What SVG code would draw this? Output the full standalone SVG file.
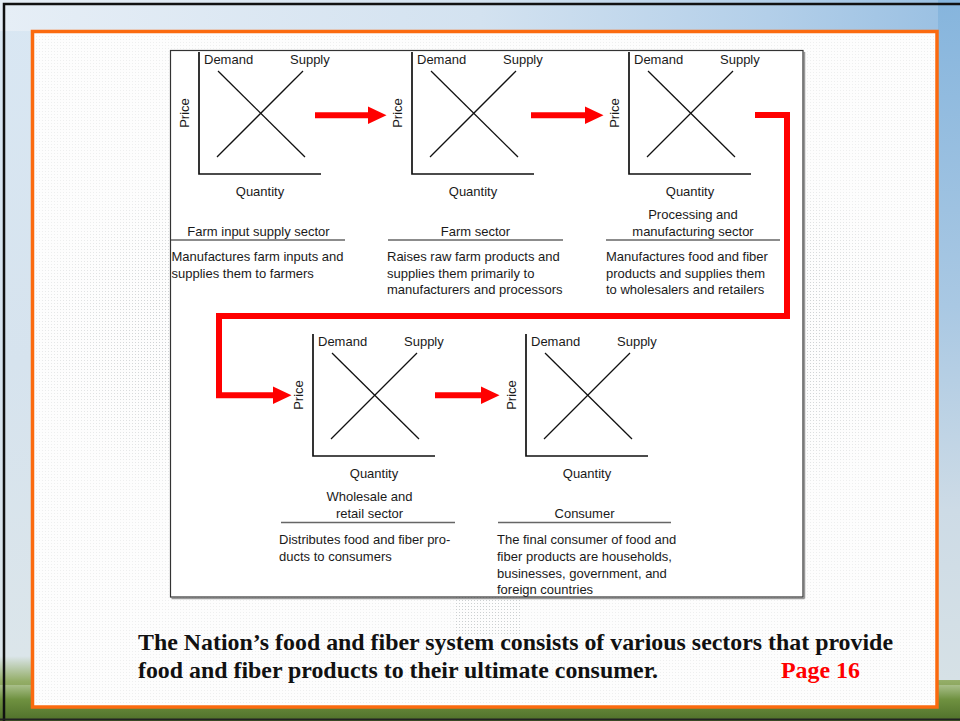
<svg xmlns="http://www.w3.org/2000/svg" width="960" height="721" viewBox="0 0 960 721">
<defs>
<style>
.axis{fill:none;stroke:#111;stroke-width:1.7}
.curve{stroke:#111;stroke-width:1.3}
.t{font-family:"Liberation Sans",Arial,sans-serif;font-size:13px;fill:#1a1a1a}
.mid{text-anchor:middle}
.rule{stroke:#666;stroke-width:1.3}
.conn{fill:none;stroke:#ff0000;stroke-width:6;stroke-linejoin:miter;stroke-linecap:butt}
.cap{font-family:"Liberation Serif","Times New Roman",serif;font-size:24px;font-weight:bold}
</style>
<linearGradient id="bg" x1="0" y1="0" x2="0" y2="1">
<stop offset="0" stop-color="#d9e7f3"/>
<stop offset="0.5" stop-color="#d6e3ee"/>
<stop offset="0.91" stop-color="#dbe5ea"/>
<stop offset="0.945" stop-color="#93ad66"/>
<stop offset="1" stop-color="#587a30"/>
</linearGradient>
<linearGradient id="topstrip" x1="0" y1="0" x2="1" y2="0">
<stop offset="0" stop-color="#e6eef6"/>
<stop offset="0.5" stop-color="#d3e2f0"/>
<stop offset="0.8" stop-color="#b3cfe9"/>
<stop offset="1" stop-color="#98bfe2"/>
</linearGradient>
<linearGradient id="rightstrip" x1="0" y1="0" x2="0" y2="1">
<stop offset="0" stop-color="#86b5dd"/>
<stop offset="0.45" stop-color="#a9c8e3"/>
<stop offset="0.75" stop-color="#cddbe6"/>
<stop offset="1" stop-color="#d6e1e6"/>
</linearGradient>
<linearGradient id="grass" x1="0" y1="0" x2="0" y2="1">
<stop offset="0" stop-color="#a9bf8a"/>
<stop offset="0.4" stop-color="#6f9140"/>
<stop offset="1" stop-color="#4f6f2a"/>
</linearGradient>
<radialGradient id="fade" cx="0.5" cy="0.5" r="0.5">
<stop offset="0" stop-color="#fff" stop-opacity="1"/>
<stop offset="0.7" stop-color="#fff" stop-opacity="0.8"/>
<stop offset="1" stop-color="#fff" stop-opacity="0"/>
</radialGradient>
<mask id="treemask" maskUnits="userSpaceOnUse" x="0" y="0" width="960" height="721">
<ellipse cx="485" cy="335" rx="470" ry="220" fill="url(#fade)"/>
</mask>
<pattern id="dots" width="3" height="3" patternUnits="userSpaceOnUse">
<rect x="0" y="0" width="1" height="1" fill="#7d868c"/>
</pattern>
<marker id="ah" markerUnits="userSpaceOnUse" markerWidth="20" markerHeight="20" refX="0" refY="8.7" orient="auto" overflow="visible">
<path d="M0,0 L18.5,8.7 L0,17.4 Z" fill="#ff0000"/>
</marker>
</defs>

<g id="background">
<rect x="0" y="0" width="960" height="721" fill="url(#bg)"/>
<rect x="0" y="0" width="960" height="31" fill="url(#topstrip)"/>
<rect x="938" y="0" width="22" height="680" fill="url(#rightstrip)"/>
<rect x="0" y="685" width="960" height="36" fill="url(#grass)"/>
<path d="M4,721 V4 H960" fill="none" stroke="#111" stroke-width="2.5"/>
<line x1="0" y1="719.5" x2="960" y2="719.5" stroke="#222" stroke-width="2"/>
</g>

<g id="frame">
<rect x="32.5" y="31.5" width="904.5" height="675.5" fill="#fdfdfd" stroke="#fb6a0f" stroke-width="3.5"/>
<rect x="35" y="34" width="900" height="670" fill="url(#dots)" opacity="0.12"/>
<rect x="35" y="34" width="900" height="670" fill="url(#dots)" opacity="0.35" mask="url(#treemask)"/>
<rect x="455" y="590" width="65" height="45" fill="url(#dots)" opacity="0.3"/>
</g>

<g id="diagram-box">
<line x1="171.5" y1="598.5" x2="804.5" y2="598.5" stroke="#999" stroke-width="1.5"/>
<line x1="804.5" y1="52" x2="804.5" y2="598.5" stroke="#999" stroke-width="1.5"/>
<rect x="170.5" y="50.5" width="632.5" height="546.5" fill="#fff" stroke="#333" stroke-width="1.2"/>
</g>

<g id="connectors">
<path class="conn" d="M315,115.3 H368" marker-end="url(#ah)"/>
<path class="conn" d="M531,115.3 H585" marker-end="url(#ah)"/>
<path class="conn" d="M755,115 H787 V316 H219 V395.3 H273" marker-end="url(#ah)"/>
<path class="conn" d="M435,395.3 H481" marker-end="url(#ah)"/>
</g>

<g id="farm-input-supply-sector">
<g transform="translate(199,52)">
<path class="axis" d="M0,0 V122 H122"/>
<line class="curve" x1="19" y1="19" x2="106" y2="105"/>
<line class="curve" x1="18" y1="105" x2="104" y2="19"/>
<text class="t" x="5" y="12">Demand</text>
<text class="t" x="91" y="12">Supply</text>
<text class="t mid" transform="translate(-10,61) rotate(-90)">Price</text>
<text class="t mid" x="61" y="144">Quantity</text>
</g>
<text class="t mid" x="258.5" y="236">Farm input supply sector</text>
<line class="rule" x1="171" y1="240" x2="345" y2="240"/>
<text class="t" x="171.5" y="261">Manufactures farm inputs and</text>
<text class="t" x="171.5" y="277.7">supplies them to farmers</text>
</g>

<g id="farm-sector">
<g transform="translate(412,52)">
<path class="axis" d="M0,0 V122 H122"/>
<line class="curve" x1="19" y1="19" x2="106" y2="105"/>
<line class="curve" x1="18" y1="105" x2="104" y2="19"/>
<text class="t" x="5" y="12">Demand</text>
<text class="t" x="91" y="12">Supply</text>
<text class="t mid" transform="translate(-10,61) rotate(-90)">Price</text>
<text class="t mid" x="61" y="144">Quantity</text>
</g>
<text class="t mid" x="475.5" y="236">Farm sector</text>
<line class="rule" x1="388" y1="240" x2="563" y2="240"/>
<text class="t" x="387" y="261">Raises raw farm products and</text>
<text class="t" x="387" y="277.7">supplies them primarily to</text>
<text class="t" x="387" y="294.4">manufacturers and processors</text>
</g>

<g id="processing-and-manufacturing-sector">
<g transform="translate(629,52)">
<path class="axis" d="M0,0 V122 H122"/>
<line class="curve" x1="19" y1="19" x2="106" y2="105"/>
<line class="curve" x1="18" y1="105" x2="104" y2="19"/>
<text class="t" x="5" y="12">Demand</text>
<text class="t" x="91" y="12">Supply</text>
<text class="t mid" transform="translate(-10,61) rotate(-90)">Price</text>
<text class="t mid" x="61" y="144">Quantity</text>
</g>
<text class="t mid" x="693" y="219">Processing and</text>
<text class="t mid" x="693" y="236">manufacturing sector</text>
<line class="rule" x1="606" y1="240" x2="780" y2="240"/>
<text class="t" x="606" y="261">Manufactures food and fiber</text>
<text class="t" x="606" y="277.7">products and supplies them</text>
<text class="t" x="606" y="294.4">to wholesalers and retailers</text>
</g>

<g id="wholesale-and-retail-sector">
<g transform="translate(313,334)">
<path class="axis" d="M0,0 V122 H122"/>
<line class="curve" x1="19" y1="19" x2="106" y2="105"/>
<line class="curve" x1="18" y1="105" x2="104" y2="19"/>
<text class="t" x="5" y="12">Demand</text>
<text class="t" x="91" y="12">Supply</text>
<text class="t mid" transform="translate(-10,61) rotate(-90)">Price</text>
<text class="t mid" x="61" y="144">Quantity</text>
</g>
<text class="t mid" x="369.5" y="501">Wholesale and</text>
<text class="t mid" x="369.5" y="518">retail sector</text>
<line class="rule" x1="281" y1="522.5" x2="455" y2="522.5"/>
<text class="t" x="279" y="544.3">Distributes food and fiber pro-</text>
<text class="t" x="279" y="561">ducts to consumers</text>
</g>

<g id="consumer">
<g transform="translate(526,334)">
<path class="axis" d="M0,0 V122 H122"/>
<line class="curve" x1="19" y1="19" x2="106" y2="105"/>
<line class="curve" x1="18" y1="105" x2="104" y2="19"/>
<text class="t" x="5" y="12">Demand</text>
<text class="t" x="91" y="12">Supply</text>
<text class="t mid" transform="translate(-10,61) rotate(-90)">Price</text>
<text class="t mid" x="61" y="144">Quantity</text>
</g>
<text class="t mid" x="584.5" y="518">Consumer</text>
<line class="rule" x1="498" y1="522.5" x2="671" y2="522.5"/>
<text class="t" x="497" y="544.3">The final consumer of food and</text>
<text class="t" x="497" y="561">fiber products are households,</text>
<text class="t" x="497" y="577.7">businesses, government, and</text>
<text class="t" x="497" y="594.3">foreign countries</text>
</g>

<g id="caption">
<text class="cap" x="138" y="650" fill="#111" textLength="755" lengthAdjust="spacingAndGlyphs">The Nation’s food and fiber system consists of various sectors that provide</text>
<text class="cap" x="138" y="678" fill="#111" textLength="520" lengthAdjust="spacingAndGlyphs">food and fiber products to their ultimate consumer.</text>
<text class="cap" x="781" y="678" fill="#ff0000" textLength="79" lengthAdjust="spacingAndGlyphs">Page 16</text>
</g>
</svg>
